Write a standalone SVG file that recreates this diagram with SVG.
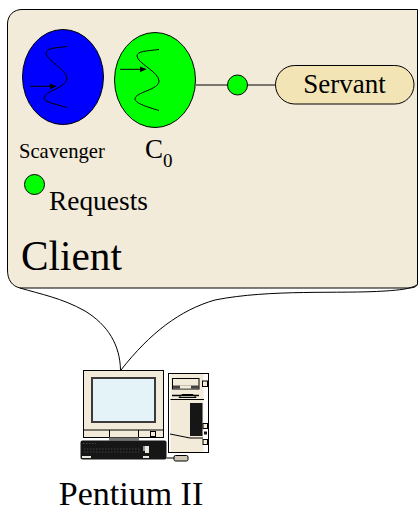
<svg xmlns="http://www.w3.org/2000/svg" width="418" height="508" viewBox="0 0 418 508">
<defs>
<style>
.t{font-family:"Liberation Serif","Times New Roman",serif;fill:#000}
.o{stroke:#000;stroke-width:1;fill:none}
.thread{stroke:#000;stroke-width:1;fill:none}
.g{fill:#00ff00;stroke:#000;stroke-width:1}
.pc{stroke:#000;stroke-width:1;fill:#f2ebd9}
.d{fill:#161616;stroke:none}
.w{fill:#e8e8e0;stroke:none}
</style>
<marker id="ah" markerWidth="7" markerHeight="6" refX="6.500" refY="3" orient="auto" markerUnits="userSpaceOnUse"><path d="M0 0L7 3L0 6Z" fill="#000"/></marker>
</defs>
<rect width="418" height="508" fill="#fff"/>
<g id="client">
<path d="M22 9.500H417.500V284C417 287 413 288 408 288H20C12 286 7.500 280 7.500 270V24C7.500 15 14 9.500 22 9.500Z" fill="#f2ebd9" stroke="#000" stroke-width="1"/>
<path class="o" d="M20 288C40 294 62 298 85 311C108 325 120 345 120.500 370"/>
<path class="o" d="M121 370C150 333 180 310 215 300C270 289 340 294 385 291C400 290 410 289 417 285"/>
<text class="t" x="21" y="270" font-size="41.300">Client</text>
</g>
<g id="connectors">
<path class="o" d="M196 85H275"/>
</g>
<g id="scavenger">
<ellipse cx="63" cy="77" rx="40.500" ry="47.500" fill="#0000ff" stroke="#000"/>
<path class="thread" d="M67 46.500C55 48 46 48 46 53C46 60 67 70 67 78C67 88 44 91 44 98C44 102 55 104 67 107.500"/>
<path class="thread" d="M30 86.300H56" marker-end="url(#ah)"/>
<text class="t" x="19" y="158" font-size="20.600">Scavenger</text>
</g>
<g id="c0">
<ellipse cx="155" cy="80" rx="40.500" ry="47.500" class="g"/>
<path class="thread" d="M159 49.500C147 51 137 51 137 56C137 63 159 72 159 81C159 90 135 92 135 99C135 103 147 107 159 110.500"/>
<path class="thread" d="M120 69.300H146" marker-end="url(#ah)"/>
<text class="t" x="145" y="158" font-size="27">C<tspan font-size="19" dy="8.500">0</tspan></text>
</g>
<g id="port">
<circle cx="237.500" cy="85" r="10" class="g"/>
</g>
<g id="servant">
<rect x="275.500" y="65.500" width="138.500" height="38.500" rx="19.250" fill="#f3e4b5" stroke="#000"/>
<text class="t" x="344.500" y="93" font-size="27" text-anchor="middle">Servant</text>
</g>
<g id="requests">
<circle cx="34.500" cy="184.500" r="10" class="g"/>
<text class="t" x="49" y="210" font-size="27.400">Requests</text>
</g>
<g id="pentium">
<rect class="pc" x="83.500" y="370.500" width="80" height="67"/>
<rect x="92" y="378" width="63" height="44" fill="#e4f3f8" stroke="#3a3a3a" stroke-width="2"/>
<path class="o" d="M83.500 430H163.500M109.500 430V437M138.500 430V437"/>
<rect x="150.500" y="431.500" width="5" height="5" fill="#f2ebd9" stroke="#000"/>
<rect x="109" y="437.500" width="30" height="3" fill="#777"/>
<rect x="168.500" y="373.500" width="40" height="79" fill="#fff" stroke="#000"/>
<rect x="170.500" y="374" width="33" height="78" fill="#f2ebd9"/>
<rect class="pc" x="172.500" y="378.500" width="26.500" height="10.500"/>
<rect x="173" y="385.500" width="26" height="3" fill="#444"/>
<rect x="180" y="385.500" width="11" height="3" fill="#f2ebd9"/>
<path d="M172 395.500H199" stroke="#000" stroke-width="1.500"/>
<path class="o" d="M179 397.500L182 394.500H193L196 397.500H179M170.500 399.500H204"/>
<rect class="pc" x="202.500" y="381" width="5" height="5.500"/>
<rect class="d" x="190" y="403" width="12.500" height="33"/>
<path class="o" d="M170 434L190 438H203"/>
<rect class="pc" x="203" y="423.500" width="4.500" height="5"/>
<rect class="pc" x="203" y="439.500" width="4.500" height="5"/>
<rect class="d" x="204" y="431.500" width="3" height="3"/>
<rect class="d" x="80.500" y="440.500" width="86" height="19" rx="2" stroke="#666" stroke-width="1"/>
<path d="M83 443.500H96M84 449H140M84 452H140" stroke="#555" stroke-width="0.700" stroke-dasharray="1.500 1.500"/>
<rect class="w" x="82" y="456" width="9" height="2"/>
<rect class="w" x="143" y="456" width="6" height="2"/>
<rect class="w" x="145" y="446" width="4" height="7"/>
<rect x="143" y="446" width="2" height="5" fill="#999"/>
<path class="o" d="M166.500 458H174"/>
<rect x="174" y="455.500" width="14" height="5.500" rx="1.500" fill="#cfc9b5" stroke="#000"/>
<text class="t" x="131" y="505" font-size="34" text-anchor="middle">Pentium II</text>
</g>
</svg>
